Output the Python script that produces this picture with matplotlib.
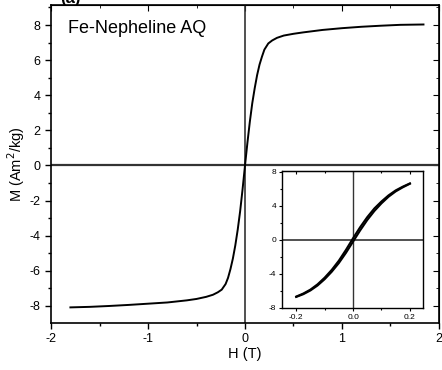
import matplotlib.pyplot as plt
from matplotlib.ticker import MultipleLocator

plt.rcParams['font.family'] = ['Liberation Sans', 'DejaVu Sans']
plt.rcParams['axes.unicode_minus'] = False

# full loop, field in T, magnetisation in Am^2/kg
h_main = [-1.80, -1.6, -1.4, -1.2, -1.0, -0.8, -0.6, -0.5, -0.4, -0.33, -0.28, -0.24,
          -0.2, -0.175, -0.15, -0.125, -0.1, -0.075, -0.05, -0.025, 0.0,
          0.025, 0.05, 0.075, 0.1, 0.125, 0.15, 0.175, 0.2,
          0.24, 0.28, 0.33, 0.4, 0.5, 0.6, 0.8, 1.0, 1.2, 1.4, 1.6, 1.84]
m_main = [-8.08, -8.05, -8.0, -7.94, -7.87, -7.8, -7.68, -7.6, -7.48, -7.36, -7.22, -7.07,
          -6.75, -6.4, -5.9, -5.3, -4.55, -3.65, -2.6, -1.35, 0.0,
          1.3, 2.5, 3.55, 4.4, 5.15, 5.75, 6.2, 6.6,
          6.95, 7.12, 7.27, 7.4, 7.5, 7.58, 7.72, 7.82, 7.9, 7.96, 8.01, 8.03]

# low-field detail, both branches
h_low = [-0.2, -0.175, -0.15, -0.125, -0.1, -0.075, -0.05, -0.025, 0.0,
         0.025, 0.05, 0.075, 0.1, 0.125, 0.15, 0.175, 0.2]
m_desc = [-6.66, -6.3, -5.84, -5.22, -4.44, -3.52, -2.44, -1.17, 0.2,
          1.5, 2.68, 3.7, 4.52, 5.24, 5.82, 6.26, 6.64]
m_asc = [-6.7, -6.38, -5.94, -5.36, -4.62, -3.74, -2.72, -1.52, -0.2,
         1.12, 2.34, 3.4, 4.3, 5.08, 5.7, 6.18, 6.6]

fig = plt.figure(figsize=(4.42, 3.70), dpi=100)
ax = fig.add_axes([0.1154, 0.127, 0.8778, 0.8595])

ax.axhline(0, color='#333333', lw=1.6, zorder=1)
ax.axvline(0, color='#333333', lw=1.2, zorder=1)
ax.plot(h_main, m_main, color='black', lw=1.4, zorder=3)

ax.set_xlim(-2, 2)
ax.set_ylim(-8.97, 9.14)
ax.xaxis.set_major_locator(MultipleLocator(1))
ax.xaxis.set_minor_locator(MultipleLocator(0.5))
ax.yaxis.set_major_locator(MultipleLocator(2))
ax.yaxis.set_minor_locator(MultipleLocator(1))
ax.tick_params(which='both', direction='out', labelsize=9, width=1)
ax.tick_params(which='major', length=4)
ax.tick_params(which='minor', length=2.5)
for s in ax.spines.values():
    s.set_linewidth(1.2)

# mirrored inward ticks on top and right
axt = ax.secondary_xaxis('top')
axt.xaxis.set_major_locator(MultipleLocator(1))
axt.xaxis.set_minor_locator(MultipleLocator(0.5))
axt.tick_params(which='both', direction='in', labeltop=False)
axt.tick_params(which='major', length=4)
axt.tick_params(which='minor', length=2.5)
axr = ax.secondary_yaxis('right')
axr.yaxis.set_major_locator(MultipleLocator(2))
axr.yaxis.set_minor_locator(MultipleLocator(1))
axr.tick_params(which='both', direction='in', labelright=False)
axr.tick_params(which='major', length=4)
axr.tick_params(which='minor', length=2.5)

ax.set_xlabel('H (T)', fontsize=10.5, labelpad=1)
ax.set_ylabel('M (Am$^2$/kg)', fontsize=10.5, labelpad=2)
ax.text(0.045, 0.925, 'Fe-Nepheline AQ', transform=ax.transAxes,
        fontsize=13, va='center', ha='left')
fig.text(0.135, 1.005, '(a)', fontsize=12, fontweight='bold', va='center')

# inset
ins = fig.add_axes([0.638, 0.1676, 0.319, 0.3703])
ins.axhline(0, color='#333333', lw=1.2, zorder=1)
ins.axvline(0, color='#333333', lw=1.0, zorder=1)
ins.plot(h_low, m_desc, color='black', lw=1.5, zorder=3)
ins.plot(h_low, m_asc, color='black', lw=1.5, zorder=3)
ins.set_xlim(-0.25, 0.246)
ins.set_ylim(-8, 8.1)
ins.xaxis.set_major_locator(MultipleLocator(0.2))
ins.xaxis.set_minor_locator(MultipleLocator(0.1))
ins.yaxis.set_major_locator(MultipleLocator(4))
ins.yaxis.set_minor_locator(MultipleLocator(2))
ins.xaxis.set_major_formatter('{x:.1f}')
ins.yaxis.set_major_formatter('{x:.0f}')
ins.tick_params(which='both', direction='out', labelsize=6, width=0.8, pad=1.5)
ins.tick_params(which='major', length=2.5)
ins.tick_params(which='minor', length=1.5)
for s in ins.spines.values():
    s.set_linewidth(1.0)
inst = ins.secondary_xaxis('top')
inst.xaxis.set_major_locator(MultipleLocator(0.2))
inst.xaxis.set_minor_locator(MultipleLocator(0.1))
inst.tick_params(which='both', direction='in', labeltop=False, width=0.8)
inst.tick_params(which='major', length=2.5)
inst.tick_params(which='minor', length=1.5)

fig.savefig('out.png', dpi=100)
